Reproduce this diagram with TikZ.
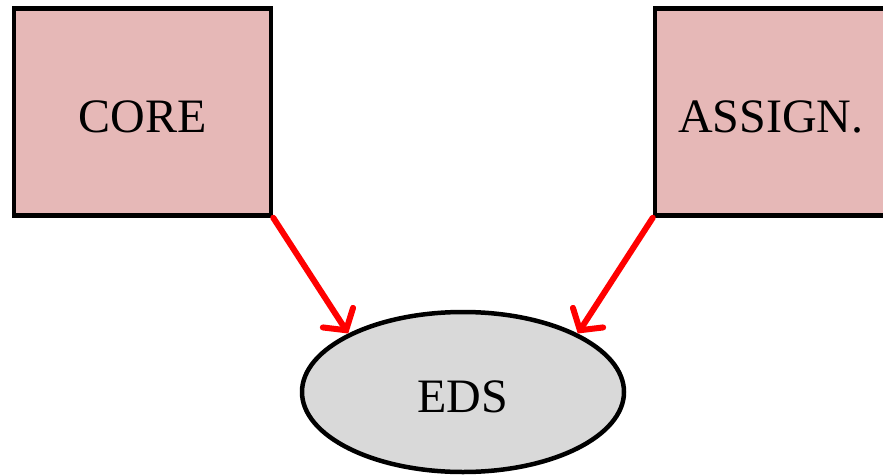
\documentclass[tikz,border=0pt]{standalone}
\usepackage{fontspec}
\setmainfont{Liberation Serif}
\usetikzlibrary{arrows.meta,shapes.geometric}
\definecolor{boxpink}{RGB}{230,184,183}
\definecolor{ellgray}{RGB}{217,217,217}
\definecolor{arrred}{RGB}{255,0,0}
\newcommand{\lowtxt}[1]{\raisebox{-5pt}[\height][\depth]{#1}}
\tikzset{
  sqbox/.style={draw=black, line width=4.5pt, fill=boxpink, rectangle, inner sep=0pt,
    font=\fontsize{48}{52}\selectfont},
  ellnode/.style={draw=black, line width=4.5pt, fill=ellgray, ellipse, inner sep=0pt,
    minimum width=322pt, minimum height=160pt, font=\fontsize{48}{52}\selectfont},
  redarrow/.style={draw=arrred, line width=6pt, line cap=round,
    -{Straight Barb[length=15pt, width=36pt, line width=6pt, line cap=round]}}
}
\begin{document}
\begin{tikzpicture}[x=1pt, y=-1pt]
  \useasboundingbox (0,0) rectangle (883,474);
  \node[sqbox, minimum width=257pt, minimum height=207pt] (core) at (142.5,112) {\lowtxt{CORE}};
  \node[sqbox, minimum width=232pt, minimum height=207pt] (assign) at (771,112) {\lowtxt{ASSIGN.}};
  \node[ellnode] (eds) at (463,392) {\lowtxt{EDS}};
  \draw[redarrow] (core.south east) -- (eds.153);
  \draw[redarrow] (assign.south west) -- (eds.27);
\end{tikzpicture}
\end{document}
